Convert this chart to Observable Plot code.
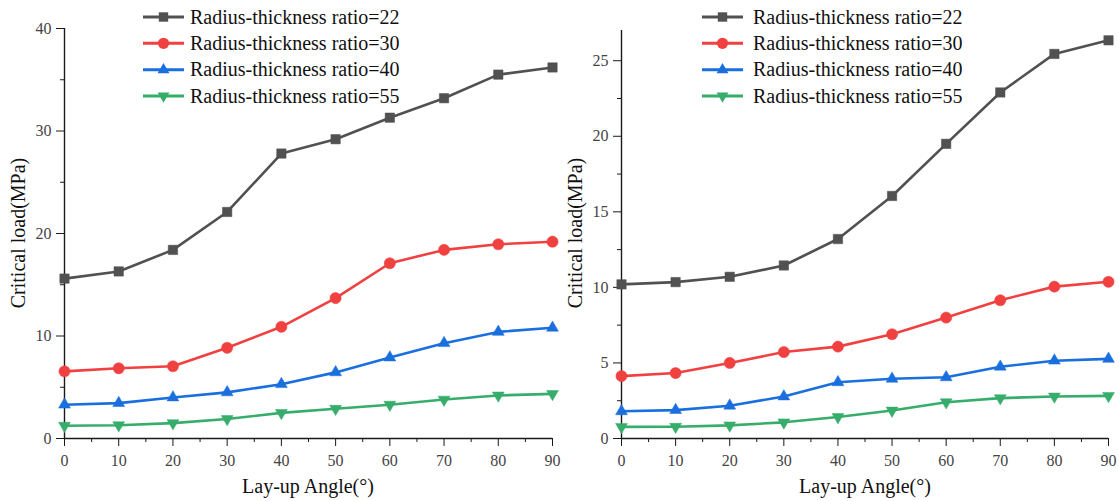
<!DOCTYPE html>
<html>
<head>
<meta charset="utf-8">
<script src="https://cdn.jsdelivr.net/npm/d3@7"></script>
<script src="https://cdn.jsdelivr.net/npm/@observablehq/plot@0.6"></script>
<style>
  html, body { margin: 0; padding: 0; background: #ffffff; }
  #wrap { position: relative; width: 1119px; height: 501px; overflow: hidden; background: #ffffff; font-family: "Liberation Serif", "Times New Roman", serif; }
  .panel { position: absolute; top: 0; }
  .panel svg { overflow: visible; }
  #wrap svg, #wrap svg text { font-family: "Liberation Serif", "Times New Roman", serif !important; }
  #overlay { position: absolute; left: 0; top: 0; pointer-events: none; }
</style>
</head>
<body>
<div id="wrap">
  <div class="panel" id="left" style="left:0px"></div>
  <div class="panel" id="right" style="left:560px"></div>
</div>
<script>
// ---- data ----
const angles = [0, 10, 20, 30, 40, 50, 60, 70, 80, 90];
const seriesNames = ["Radius-thickness ratio=22", "Radius-thickness ratio=30", "Radius-thickness ratio=40", "Radius-thickness ratio=55"];

const leftR22 = [15.6, 16.3, 18.4, 22.1, 27.8, 29.2, 31.3, 33.2, 35.5, 36.2];
const leftR30 = [6.55, 6.85, 7.05, 8.85, 10.9, 13.7, 17.1, 18.4, 18.95, 19.2];
const leftR40 = [3.3, 3.45, 4.0, 4.5, 5.3, 6.45, 7.9, 9.3, 10.4, 10.8];
const leftR55 = [1.25, 1.3, 1.5, 1.9, 2.5, 2.9, 3.3, 3.8, 4.2, 4.35];

const rightR22 = [10.2, 10.35, 10.7, 11.45, 13.2, 16.05, 19.5, 22.9, 25.45, 26.35];
const rightR30 = [4.13, 4.33, 5.0, 5.72, 6.08, 6.9, 8.0, 9.15, 10.05, 10.37];
const rightR40 = [1.8, 1.88, 2.17, 2.78, 3.72, 3.95, 4.05, 4.75, 5.15, 5.27];
const rightR55 = [0.77, 0.78, 0.87, 1.07, 1.42, 1.85, 2.4, 2.67, 2.78, 2.82];

const xMajorTicks = [0, 10, 20, 30, 40, 50, 60, 70, 80, 90];
const xMinorTicks = [5, 15, 25, 35, 45, 55, 65, 75, 85];
const leftYMajor = [0, 10, 20, 30, 40];
const leftYMinor = [5, 15, 25, 35];
const rightYMajor = [0, 5, 10, 15, 20, 25];
const rightYMinor = [2.5, 7.5, 12.5, 17.5, 22.5];

const xTitle = "Lay-up Angle(°)";
const yTitle = "Critical load(MPa)";

// ---- styles ----
const colors = ["#515151", "#F14040", "#1A6FDF", "#37AD6B"];
const downTriangle = {
  draw(ctx, size) {
    const y = -Math.sqrt(size / (Math.sqrt(3) * 3));
    ctx.moveTo(0, -y * 2);
    ctx.lineTo(-Math.sqrt(3) * y, y);
    ctx.lineTo(Math.sqrt(3) * y, y);
    ctx.closePath();
  }
};
const symbols = ["square", "circle", "triangle", downTriangle];
const radii = [5.3, 5.6, 4.4, 4.4];
const FONT = "'Liberation Serif', 'Times New Roman', serif";

function rows(values) {
  return angles.map((a, i) => ({angle: a, value: values[i]}));
}

function panel(seriesValues, yDomain, yMajor, yMinor, mLeft, mRight, mTop) {
  const marks = [];
  // axis lines
  marks.push(Plot.ruleX([0], {stroke: "#1a1a1a", strokeWidth: 1.4}));
  marks.push(Plot.ruleY([0], {stroke: "#1a1a1a", strokeWidth: 1.4}));
  // ticks
  marks.push(Plot.axisX({ticks: xMajorTicks, tickSize: 8, tickFormat: () => "", label: null, color: "#1a1a1a"}));
  marks.push(Plot.axisX({ticks: xMinorTicks, tickSize: 4, tickFormat: () => "", label: null, color: "#1a1a1a"}));
  marks.push(Plot.axisX({ticks: xMajorTicks, tickSize: 0, tickPadding: 16, label: null, color: "#444", fontSize: 16}));
  marks.push(Plot.axisY({ticks: yMajor, tickSize: 8, tickFormat: () => "", label: null, color: "#1a1a1a"}));
  marks.push(Plot.axisY({ticks: yMinor, tickSize: 4, tickFormat: () => "", label: null, color: "#1a1a1a"}));
  marks.push(Plot.axisY({ticks: yMajor, tickSize: 0, tickPadding: 13, label: null, color: "#444", fontSize: 16}));
  seriesValues.forEach((vals, i) => {
    marks.push(Plot.line(rows(vals), {x: "angle", y: "value", stroke: colors[i], strokeWidth: 2.6}));
  });
  seriesValues.forEach((vals, i) => {
    marks.push(Plot.dot(rows(vals), {x: "angle", y: "value", symbol: symbols[i], r: radii[i], fill: colors[i], stroke: colors[i], strokeWidth: 0.5}));
  });
  return Plot.plot({
    width: 559,
    height: 501,
    marginLeft: mLeft,
    marginRight: mRight,
    marginTop: mTop,
    marginBottom: 63,
    x: {domain: [0, 90], label: null},
    y: {domain: yDomain, label: null},
    style: {fontFamily: FONT, fontSize: "16px", background: "transparent", overflow: "visible"},
    marks
  });
}

document.getElementById("left").appendChild(panel([leftR22, leftR30, leftR40, leftR55], [0, 40], leftYMajor, leftYMinor, 64, 7, 28));
document.getElementById("right").appendChild(panel([rightR22, rightR30, rightR40, rightR55], [0, 27], rightYMajor, rightYMinor, 61, 11, 30));

// ---- titles and legends overlay ----
const svg = d3.select("#wrap").append("svg")
  .attr("id", "overlay").attr("width", 1119).attr("height", 501)
  .attr("font-family", FONT);

function titles(axisX, centerX) {
  svg.append("text")
    .attr("transform", `translate(${axisX - 39},233) rotate(-90)`)
    .attr("text-anchor", "middle")
    .attr("font-family", FONT)
    .attr("font-size", 20).attr("fill", "#111")
    .text(yTitle);
  svg.append("text")
    .attr("x", centerX).attr("y", 493)
    .attr("text-anchor", "middle")
    .attr("font-family", FONT)
    .attr("font-size", 20).attr("fill", "#111")
    .text(xTitle);
}
titles(64, 308);
titles(621, 865);

function legend(lineX0, textX) {
  const rowsY = [17, 43.3, 69.8, 96];
  seriesNames.forEach((name, i) => {
    const y = rowsY[i];
    const g = svg.append("g");
    g.append("line").attr("x1", lineX0).attr("x2", lineX0 + 41).attr("y1", y).attr("y2", y)
      .attr("stroke", colors[i]).attr("stroke-width", 3);
    const r = radii[i];
    const sym = typeof symbols[i] === "string"
      ? {square: d3.symbolSquare, circle: d3.symbolCircle, triangle: d3.symbolTriangle}[symbols[i]]
      : symbols[i];
    g.append("path").attr("d", d3.symbol(sym, r * r * Math.PI)())
      .attr("transform", `translate(${lineX0 + 20.5},${y})`)
      .attr("fill", colors[i]);
    g.append("text").attr("x", textX).attr("y", y + 6.6)
      .attr("font-family", FONT)
      .attr("font-size", 20).attr("fill", "#111")
      .text(name);
  });
}
legend(143, 190);
legend(702, 753);
</script>
</body>
</html>
